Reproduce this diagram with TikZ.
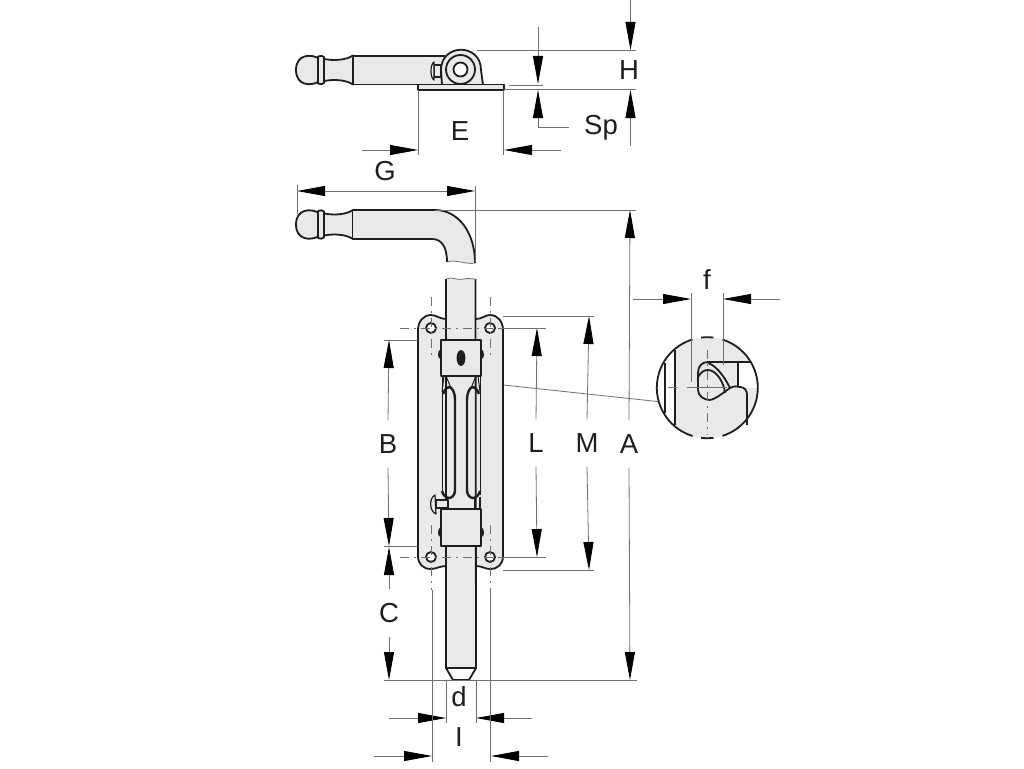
\documentclass[tikz,border=0pt]{standalone}
\usepackage{fontspec}
\setmainfont{Liberation Sans}
\usetikzlibrary{arrows.meta}
\definecolor{steel}{HTML}{E8EAEA}
\definecolor{ink}{HTML}{1E1E1E}
\definecolor{dimgrey}{HTML}{707070}
\tikzset{
  part/.style={draw=ink,line width=1.8pt,fill=steel,line join=round},
  edge/.style={draw=ink,line width=1.8pt,line join=round},
  thinedge/.style={draw=ink,line width=1pt},
  helper/.style={draw=dimgrey,line width=0.8pt},
  centreline/.style={draw=dimgrey,line width=0.7pt,dash pattern=on 9pt off 5pt on 2pt off 5pt},
  dimline/.style={helper,-{Triangle[length=28pt,width=10pt,color=black]}},
  dimlabel/.style={font=\fontsize{27.5}{27.5}\selectfont,text=ink,inner xsep=1pt,inner ysep=14pt}
}
\begin{document}
\begin{tikzpicture}[x=1pt,y=-1pt]
\useasboundingbox (0,0) rectangle (1024,768);

% knob, both views
\foreach \ky in {70,224.5} {
  \draw[part] (353,\ky-14.5) .. controls (346,\ky-10) and (335,\ky-9) .. (324,\ky-11) -- (324,\ky+11) .. controls (335,\ky+9) and (346,\ky+10) .. (353,\ky+14.5) -- cycle;
  \draw[part] (318,\ky-12) .. controls (311,\ky-16) and (296,\ky-16) .. (296,\ky) .. controls (296,\ky+16) and (311,\ky+16) .. (318,\ky+12) -- cycle;
  \draw[part] (318,\ky-13.5) .. controls (320,\ky-14.5) and (323,\ky-14.5) .. (324,\ky-13) -- (324,\ky+13) .. controls (323,\ky+14.5) and (320,\ky+14.5) .. (318,\ky+13.5) -- cycle;
}

% top view
\fill[steel] (353,56) rectangle (442,84);
\draw[edge] (353,84.5) -- (353,56) -- (445,56);
\draw[edge] (353,84.5) -- (420,84.5);
\draw[part] (442,85) -- (441,70) .. controls (441,43) and (481,43) .. (481,70) -- (483,85) -- cycle;
\draw[part] (460.5,69.5) circle (14.5);
\draw[edge,fill=white] (460.5,69.5) circle (7);
\draw[part,line width=1.2pt] (434,65) rectangle (441,77);
\draw[part,line width=1.2pt] (434,62) .. controls (430,64) and (430,78) .. (434,80) -- cycle;
\draw[part,line width=1.2pt] (418,84.5) rectangle (504,90);

% front view, handle
\fill[steel] (353,210) -- (435,210) .. controls (458,210) and (475,232) .. (475,262) .. controls (468,265) and (455,259) .. (447,262) .. controls (447,246) and (441,239) .. (432,239) -- (353,239) -- cycle;
\draw[edge] (353,210) -- (435,210) .. controls (458,210) and (475,232) .. (475,263);
\draw[edge] (353,239) -- (432,239) .. controls (441,239) and (447,246) .. (447,262);
\draw[helper] (447,262) .. controls (455,259) and (468,265) .. (475,263);

% plate
\draw[part] (446,319) .. controls (440,319) and (436,315) .. (431,315) .. controls (423,315) and (418,322) .. (418,330) -- (418,556) .. controls (418,564) and (423,569) .. (431,569) .. controls (436,569) and (440,566) .. (446,566) -- (476,566) .. controls (482,566) and (485,569) .. (490,569) .. controls (498,569) and (503,564) .. (503,556) -- (503,330) .. controls (503,322) and (498,315) .. (490,315) .. controls (485,315) and (482,319) .. (476,319) -- cycle;

% bolt
\fill[steel] (446,279) rectangle (475.5,668);
\draw[edge] (446,279) -- (446,668) -- (453,680) -- (469,680) -- (476,668) -- (475.5,279);
\draw[edge] (446,668) -- (476,668);
\draw[helper] (446,279) .. controls (452,276) and (458,281) .. (464,279) .. controls (468,278) and (472,279) .. (475.5,279);

% holes and their centre lines
\foreach \hx/\hy in {431/328,490/328,431/557,490/557} {
  \draw[edge,fill=white] (\hx,\hy) circle (5);
}
\draw[centreline] (400,328) -- (546,328);
\draw[centreline] (400,557) -- (546,557);
\foreach \hx in {431.5,490} {
  \draw[centreline] (\hx,297) -- (\hx,358);
  \draw[centreline] (\hx,525) -- (\hx,590);
}

% slide guides
\foreach \side/\mx in {1/0,-1/922} {
  \begin{scope}[shift={(\mx,0)},xscale=\side]
    \draw[thinedge] (442,376) -- (442,495);
    \draw[thinedge] (444,376) -- (442,392);
    \draw[thinedge] (446,376) -- (451,388);
    \draw[edge,line width=2.4pt] (443,394) .. controls (445,389) and (447,387) .. (449,387) .. controls (452,387) and (455,392) .. (455,400) -- (455,490) .. controls (455,495) and (452,498) .. (449,498) .. controls (446,498) and (443,495) .. (442,491);
    \fill[ink] (441,349) .. controls (437,350) and (437,360) .. (441,359) -- cycle;
    \fill[ink] (441,527) .. controls (437,528) and (437,538) .. (441,537) -- cycle;
  \end{scope}
}
\draw[part] (441,340) rectangle (481,376);
\draw[edge,fill=ink] (461,358) ellipse (3.5 and 7);
\draw[part] (441,509) rectangle (481,546);

% stud and catch
\draw[part,line width=1.2pt] (436,500) rectangle (448,508);
\draw[part,line width=1.2pt] (435,495) .. controls (429,498) and (429,511) .. (436,514) -- cycle;
\draw[thinedge] (474,497) -- (474,509);
\draw[edge] (480,497) -- (480,509);

% dimension labels
\foreach \pos/\txt/\name in {
  {(629,444)/A/lblA},{(388,444)/B/lblB},{(389,613)/C/lblC},{(459,697)/d/lbld},
  {(460,131)/E/lblE},{(385,171)/G/lblG},{(629,70)/H/lblH},{(459,737)/I/lblI},
  {(536,443)/L/lblL},{(587,443)/M/lblM},{(601,128)/Sp/lblSp},{(707,280)/f/lblf}}
  \node[dimlabel] (\name) at \pos {\txt};

% dimension lines
\draw[dimline] (lblA.north) -- (630,210);
\draw[dimline] (lblA.south) -- (630,680);
\draw[dimline] (lblB.north) -- (389,340);
\draw[dimline] (lblB.south) -- (389,546);
\draw[dimline] (lblC.north) -- (389,547);
\draw[dimline] (lblC.south) -- (389,680);
\draw[dimline] (lblL.north) -- (537,328);
\draw[dimline] (lblL.south) -- (537,557);
\draw[dimline] (lblM.north) -- (589,316);
\draw[dimline] (lblM.south) -- (589,570);

\draw[dimline] (630.5,0) -- (630.5,50);
\draw[dimline] (630.5,146) -- (630.5,90);
\draw[dimline] (538,27) -- (538,84);
\draw[dimline] (569,127) -- (538,127) -- (538,90);
\draw[dimline] (362,150) -- (418,150);
\draw[dimline] (561,150) -- (504,150);
\draw[dimline] (386,191) -- (297,191);
\draw[dimline] (386,191) -- (475,191);
\draw[dimline] (389,718) -- (446,718);
\draw[dimline] (532,718) -- (476,718);
\draw[dimline] (374,756) -- (432,756);
\draw[dimline] (548,756) -- (491,756);
\draw[dimline] (633,299) -- (691,299);
\draw[dimline] (780,299) -- (723,299);

% extension lines
\draw[helper] (477,50) -- (636,50);
\draw[helper] (504,89.5) -- (636,89.5);
\draw[helper] (509,85) -- (543,85);
\draw[helper] (418,90) -- (418,155);
\draw[helper] (503.5,90) -- (503.5,155);
\draw[helper] (297,185) -- (297,214);
\draw[helper] (475.5,186) -- (475.5,262);
\draw[helper] (435,210) -- (636,210);
\draw[helper] (384,680) -- (637,680);
\draw[helper] (384,340) -- (418,340);
\draw[helper] (384,546) -- (418,546);
\draw[helper] (500,328) -- (546,328);
\draw[helper] (500,557) -- (546,557);
\draw[helper] (503,316) -- (594,316);
\draw[helper] (503,570) -- (594,570);
\draw[helper] (446,680) -- (446,723);
\draw[helper] (476,680) -- (476,723);
\draw[helper] (432,590) -- (432,762);
\draw[helper] (490.5,590) -- (490.5,762);
\draw[helper] (503.5,385) -- (662,402);

% detail
\fill[steel] (707.3,387.7) circle (50.5);
\begin{scope}
  \clip (707.3,387.7) circle (50.5);
  \fill[white] (657,330) rectangle (675,445);
  \fill[white] (738,362) rectangle (760,388);
  \draw[edge] (665,363) -- (665,413);
  \draw[edge] (675,350) -- (675,425);
  \draw[edge] (708,361.7) -- (760,361.7);
\end{scope}
\draw[edge] (707.3,387.7) ++(-72.5:50.5) arc[start angle=-72.5,end angle=72.5,radius=50.5];
\draw[edge] (707.3,387.7) ++(107:50.5) arc[start angle=107,end angle=253,radius=50.5];
\draw[edge] (707.3,387.7) ++(-97:50.5) arc[start angle=-97,end angle=-83,radius=50.5];
\draw[edge] (707.3,387.7) ++(83:50.5) arc[start angle=83,end angle=97,radius=50.5];
\draw[helper] (691,293) -- (691,382);
\draw[helper] (723,293) -- (723,365);
\draw[edge] (738.3,362) -- (738.3,386);
\draw[edge] (708,362) .. controls (702,362) and (698,366) .. (698,373) -- (698,390) .. controls (698,396) and (704,400) .. (710,400) .. controls (716,399) and (724,392) .. (730,388) .. controls (734,386) and (737,386) .. (740,387) .. controls (745,387) and (747,391) .. (747,395) -- (747,425);
\draw[edge] (698,377) .. controls (701,372) and (704,370) .. (708,370) .. controls (716,370) and (724,382) .. (725,393);
\draw[edge] (708,363) .. controls (714,365) and (722,372) .. (730,388);
\draw[helper] (668,387.7) -- (677,387.7);
\draw[helper] (687,387.7) -- (727,387.7);
\draw[centreline] (707.3,350) -- (707.3,435);

\end{tikzpicture}
\end{document}
